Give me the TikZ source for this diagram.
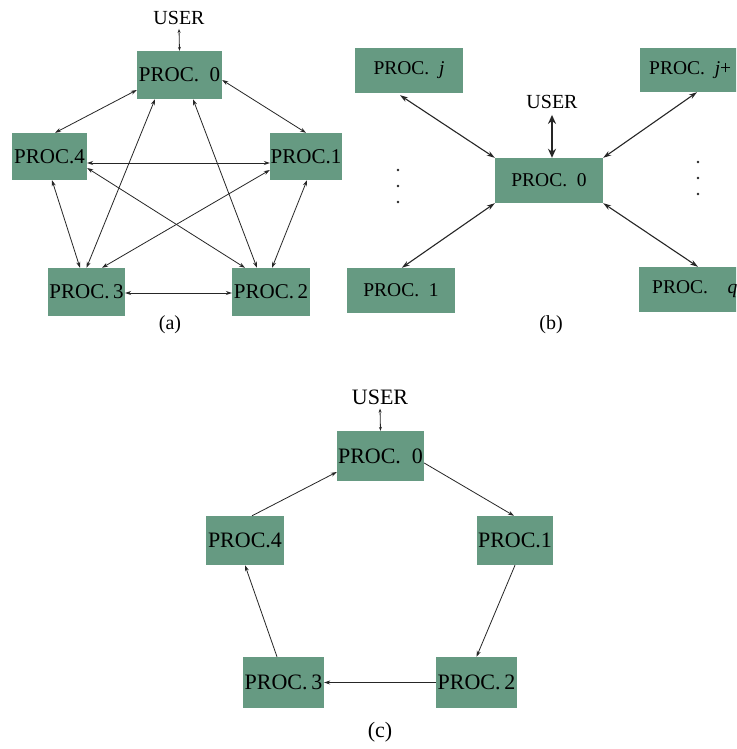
\documentclass[tikz,border=0pt]{standalone}
\usepackage{fontspec}
\setmainfont{Liberation Serif}
\usetikzlibrary{arrows.meta}
\definecolor{boxgreen}{RGB}{102,154,130}
\tikzset{
  procbox/.style={draw=none, fill=boxgreen, rectangle, inner sep=0pt, text=black},
  lbl/.style={inner sep=0pt, text=black},
  dbl/.style={{Stealth[length=6pt,width=4pt]}-{Stealth[length=6pt,width=4pt]}, line width=0.8pt, black!85},
  dblb/.style={{Stealth[length=8pt,width=5pt]}-{Stealth[length=8pt,width=5pt]}, line width=1.1pt, black!85},
  dblthick/.style={{Stealth[length=9pt,width=8pt]}-{Stealth[length=9pt,width=8pt]}, line width=2.2pt, black!85},
  one/.style={-{Stealth[length=6pt,width=4pt]}, line width=0.8pt, black!85},
}
\begin{document}
\begin{tikzpicture}[x=1pt,y=-1pt]
\useasboundingbox (0,0) rectangle (736,749);
\clip (0,0) rectangle (736,749);
\fill[white] (0,0) rectangle (736,749);

% ---------- (a) ----------
\begin{scope}[every node/.append style={font=\fontsize{21}{23}\selectfont}]
\node[procbox, minimum width=85pt, minimum height=48pt] (a0) at (179.5,75) {PROC.\ \ 0};
\node[procbox, minimum width=75pt, minimum height=47pt] (a4) at (49.5,156.5) {PROC.4};
\node[procbox, minimum width=72pt, minimum height=47pt] (a1) at (306,156.5) {PROC.1};
\node[procbox, minimum width=77pt, minimum height=48pt] (a3) at (86.5,292) {PROC.\,3};
\node[procbox, minimum width=78pt, minimum height=48pt] (a2) at (271,292) {PROC.\,2};
\end{scope}
\begin{scope}[every node/.append style={font=\fontsize{20}{22}\selectfont}]
\node[lbl] (au) at (179,18) {USER};
\node[lbl] (alab) at (170,325) {(a)};
\end{scope}
\draw[dbl, {Stealth[length=4pt,width=3pt]}-{Stealth[length=4pt,width=3pt]}] ([yshift=-4pt]au.south) -- (a0.north);
\draw[dbl] ([yshift=-15pt]a0.west) -- ([xshift=5.5pt]a4.north);
\draw[dbl] ([yshift=-5pt]a0.east) -- (a1.north);
\draw[dbl] ([yshift=-6.5pt]a4.east) -- ([yshift=-6.5pt]a1.west);
\draw[dbl] ([yshift=-11.5pt]a4.east) -- ([xshift=-26pt]a2.north);
\draw[dbl] ([xshift=2.5pt]a4.south) -- ([xshift=-6.5pt]a3.north);
\draw[dbl] ([xshift=-24.5pt]a0.south) -- (a3.north);
\draw[dbl] ([xshift=13.5pt]a0.south) -- ([xshift=-14pt]a2.north);
\draw[dbl] ([yshift=-13.5pt]a1.west) -- ([xshift=15.5pt]a3.north);
\draw[dbl] ([xshift=1pt]a1.south) -- ([xshift=1pt]a2.north);
\draw[dbl] ([yshift=-1pt]a3.east) -- ([yshift=-1pt]a2.west);

% ---------- (b) ----------
\begin{scope}[every node/.append style={font=\fontsize{19.5}{21}\selectfont}]
\node[procbox, minimum width=108pt, minimum height=45pt] (b0) at (549,180.5) {PROC.\ \ 0};
\node[procbox, minimum width=108pt, minimum height=45pt] (bj) at (409,70.5) {PROC.\ \ \textit{j}};
\node[procbox, anchor=west, inner xsep=9pt, text width=110pt, align=left, minimum height=44pt] (bjp) at (640,70) {PROC.\ \,\textit{j}+};
\node[procbox, minimum width=108pt, minimum height=45pt] (b1) at (401,290.5) {PROC.\ \ 1};
\node[procbox, anchor=west, inner xsep=13pt, text width=110pt, align=left, minimum height=45pt] (bq) at (639,289.5) {PROC.\ \ \ \textit{q}};
\end{scope}
\begin{scope}[every node/.append style={font=\fontsize{20}{22}\selectfont}]
\node[lbl] (bu) at (552,102) {USER};
\node[lbl] (blab) at (551,325) {(b)};
\end{scope}
\draw[dblthick] ([yshift=-6pt]bu.south) -- ([xshift=3pt]b0.north);
\draw[dblb] ([xshift=-9pt,yshift=-2pt]bj.south) -- (b0.north west);
\draw[dblb] ([xshift=57pt]bjp.south west) -- (b0.north east);
\draw[dblb] (b0.south west) -- ([xshift=55pt]b1.north west);
\draw[dblb] (b0.south east) -- ([xshift=59pt]bq.north west);
\foreach \yy in {170,186,202} \fill[black!85] (398,\yy) circle (1.4pt);
\foreach \yy in {162,178,194} \fill[black!85] (698,\yy) circle (1.4pt);

% ---------- (c) ----------
\begin{scope}[every node/.append style={font=\fontsize{22}{24}\selectfont}]
\node[procbox, minimum width=87pt, minimum height=50pt] (c0) at (380.5,456) {PROC.\ \ 0};
\node[procbox, minimum width=78pt, minimum height=49pt] (c4) at (245,540.5) {PROC.4};
\node[procbox, minimum width=76pt, minimum height=49pt] (c1) at (515,540.5) {PROC.1};
\node[procbox, minimum width=81pt, minimum height=51pt] (c3) at (283.5,682.5) {PROC.\,3};
\node[procbox, minimum width=81pt, minimum height=51pt] (c2) at (476.5,682.5) {PROC.\,2};
\node[lbl] (cu) at (380,397) {USER};
\node[lbl] (clab) at (380,732) {(c)};
\end{scope}
\draw[dbl, {Stealth[length=4pt,width=3pt]}-{Stealth[length=4pt,width=3pt]}] ([yshift=-4pt]cu.south) -- (c0.north);
\draw[one] ([xshift=7pt]c4.north) -- ([yshift=-16pt]c0.west);
\draw[one] ([yshift=-7pt]c0.east) -- ([xshift=-1pt]c1.north);
\draw[one] (c1.south) -- (c2.north);
\draw[one] (c2.west) -- (c3.east);
\draw[one] ([xshift=-6.5pt]c3.north) -- (c4.south);
\end{tikzpicture}
\end{document}
